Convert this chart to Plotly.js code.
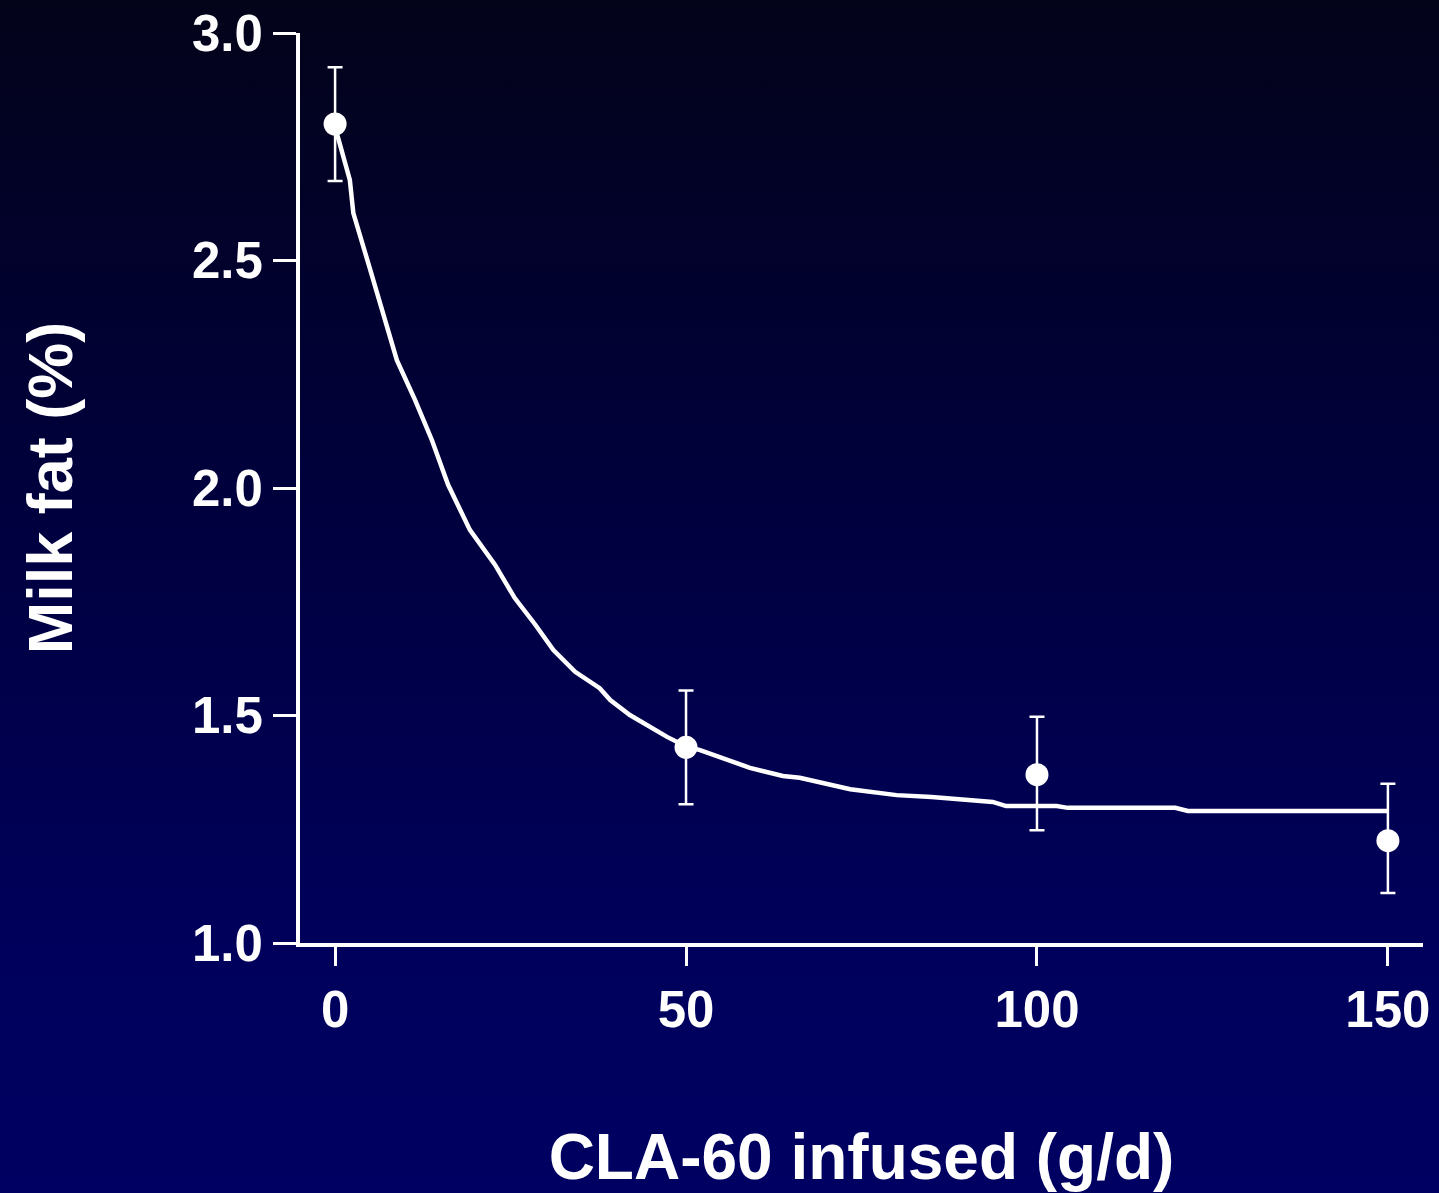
<!DOCTYPE html>
<html>
<head>
<meta charset="utf-8">
<script src="https://cdn.plot.ly/plotly-3.0.1.min.js"></script>
<style>
  html, body { margin: 0; padding: 0; width: 1439px; height: 1193px; overflow: hidden; }
  body { background: linear-gradient(to bottom, #03031a 0%, #000040 45%, #00005c 80%, #000062 100%); }
  #chart { width: 1439px; height: 1193px; }
</style>
</head>
<body>
<div id="chart"></div>
<script>
// Observed means with error bars
const doseX = [0, 50, 100, 150];
const milkFat = [2.80, 1.43, 1.37, 1.225];
const errPlus = [0.125, 0.125, 0.127, 0.125];
const errMinus = [0.125, 0.125, 0.122, 0.115];

// Fitted curve
const curveX = [0, 0.4, 2.1, 2.6, 5.0, 7.5, 8.8, 11.4, 13.8, 16.1, 19.2, 22.8, 25.6, 28.5, 31.1, 34.2, 37.7, 39.2, 42.0, 47.3, 50.0, 52.0, 55.8, 59.1, 63.8, 66.2, 73.4, 80.0, 85.0, 90.0, 93.7, 95.6, 102.8, 104.4, 119.7, 121.5, 150.0];
const curveY = [2.79, 2.771, 2.677, 2.604, 2.48, 2.354, 2.281, 2.193, 2.105, 2.007, 1.908, 1.831, 1.758, 1.70, 1.644, 1.596, 1.560, 1.534, 1.501, 1.453, 1.432, 1.424, 1.402, 1.385, 1.367, 1.363, 1.338, 1.325, 1.321, 1.314, 1.310, 1.301, 1.301, 1.297, 1.297, 1.290, 1.290];

const xTicks = [0, 50, 100, 150];
const xTickText = ['0', '50', '100', '150'];
const yTicks = [1.0, 1.5, 2.0, 2.5, 3.0];
const yTickText = ['1.0', '1.5', '2.0', '2.5', '3.0'];

const fontFam = 'Liberation Sans, Arial, Helvetica, sans-serif';

const traces = [
  {
    x: curveX, y: curveY, type: 'scatter', mode: 'lines',
    line: { color: 'white', width: 4.5 },
    hoverinfo: 'skip', cliponaxis: false, showlegend: false
  },
  {
    x: doseX, y: milkFat, type: 'scatter', mode: 'markers',
    marker: { color: 'white', size: 23, line: { width: 0 } },
    error_y: { type: 'data', symmetric: false, array: errPlus, arrayminus: errMinus,
               color: 'white', thickness: 2.5, width: 7.5 },
    cliponaxis: false, showlegend: false
  }
];

const layout = {
  width: 1439, height: 1193,
  paper_bgcolor: 'rgba(0,0,0,0)',
  plot_bgcolor: 'rgba(0,0,0,0)',
  margin: { l: 300, r: 16, t: 33, b: 250 },
  font: { family: fontFam, color: 'white' },
  showlegend: false,
  xaxis: {
    range: [-5, 155], tickvals: xTicks, ticktext: xTickText,
    showgrid: false, zeroline: false,
    showline: true, linecolor: 'white', linewidth: 4,
    ticks: 'outside', ticklen: 19, tickwidth: 3, tickcolor: 'white',
    tickfont: { family: fontFam, size: 51, color: 'white', weight: 'bold' },
    title: { text: 'CLA-60 infused (g/d)', standoff: 108,
             font: { family: fontFam, size: 64, color: 'white', weight: 'bold' } }
  },
  yaxis: {
    range: [1, 3], tickvals: yTicks, ticktext: yTickText,
    showgrid: false, zeroline: false,
    showline: true, linecolor: 'white', linewidth: 4,
    ticks: 'outside', ticklen: 23, tickwidth: 3, tickcolor: 'white',
    tickfont: { family: fontFam, size: 51, color: 'white', weight: 'bold' },
    title: { text: 'Milk fat (%)', standoff: 100,
             font: { family: fontFam, size: 63, color: 'white', weight: 'bold' } }
  }
};

Plotly.newPlot('chart', traces, layout, { displayModeBar: false, staticPlot: true });
</script>
</body>
</html>
